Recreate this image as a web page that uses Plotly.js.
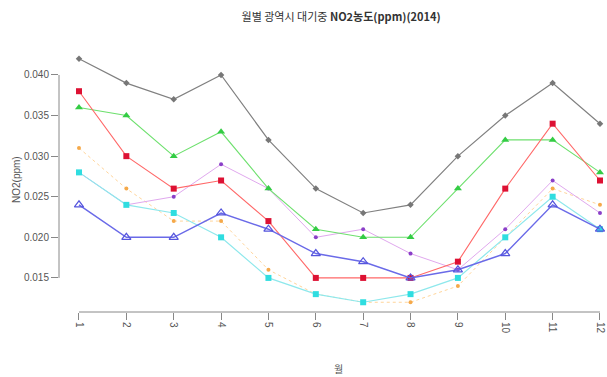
<!DOCTYPE html>
<html>
<head>
<meta charset="utf-8">
<script src="https://cdn.plot.ly/plotly-3.0.1.min.js"></script>
<style>html,body{margin:0;padding:0;background:#fff;}#chart{width:607px;height:377px;}</style>
</head>
<body>
<div id="chart"></div>
<script>
// ---- data ----
const months = [1,2,3,4,5,6,7,8,9,10,11,12];
const xTickLabels = ["1","2","3","4","5","6","7","8","9","10","11","12"];
const yTicks = [0.015,0.020,0.025,0.030,0.035,0.040];
const yTickLabels = ["0.015","0.020","0.025","0.030","0.035","0.040"];

const seriesGray   = [0.042,0.039,0.037,0.040,0.032,0.026,0.023,0.024,0.030,0.035,0.039,0.034];
const seriesRed    = [0.038,0.030,0.026,0.027,0.022,0.015,0.015,0.015,0.017,0.026,0.034,0.027];
const seriesGreen  = [0.036,0.035,0.030,0.033,0.026,0.021,0.020,0.020,0.026,0.032,0.032,0.028];
const seriesOrange = [0.031,0.026,0.022,0.022,0.016,0.013,0.012,0.012,0.014,0.020,0.026,0.024];
const seriesViolet = [0.028,0.024,0.025,0.029,0.026,0.020,0.021,0.018,0.016,0.021,0.027,0.023];
const seriesCyan   = [0.028,0.024,0.023,0.020,0.015,0.013,0.012,0.013,0.015,0.020,0.025,0.021];
const seriesBlue   = [0.024,0.020,0.020,0.023,0.021,0.018,0.017,0.015,0.016,0.018,0.024,0.021];

const titleText = "월별 광역시 대기중 <b>NO2농도(ppm)(2014)</b>";
const xTitle = "월";
const yTitle = "NO2(ppm)";

// ---- styles ----
function tr(y, lineColor, lineWidth, dash, mColor, mSymbol, mSize, mLine) {
  return {
    x: months, y: y, type: 'scatter', mode: 'lines+markers', cliponaxis: false,
    line: {color: lineColor, width: lineWidth, dash: dash},
    marker: {color: mColor, symbol: mSymbol, size: mSize, line: mLine || {width: 0}},
    hoverinfo: 'x+y'
  };
}
const data = [
  tr(seriesOrange, '#ffd59a', 1, 'dot', '#f5a94a', 'circle', 4),
  tr(seriesViolet, '#e0a8ee', 1, 'solid', '#8a3fc8', 'circle', 4),
  tr(seriesCyan, '#8ee8ec', 1.2, 'solid', '#2fdde0', 'square', 6),
  tr(seriesGray, '#808080', 1.2, 'solid', '#777777', 'diamond', 5),
  tr(seriesGreen, '#6ee06e', 1.1, 'solid', '#33cc44', 'triangle-up', 7),
  tr(seriesRed, '#ff6868', 1.1, 'solid', '#dd1133', 'square', 6),
  tr(seriesBlue, '#6a6ae8', 1.5, 'solid', '#5555dd', 'triangle-up-open', 8, {color: '#5555dd', width: 1.2})
];

const axisFont = {family: 'Liberation Sans, Arial, sans-serif', size: 10, color: '#555'};
const layout = {
  width: 607, height: 377,
  margin: {l: 59, r: 0, t: 49, b: 65, pad: 0},
  paper_bgcolor: '#fff', plot_bgcolor: '#fff',
  showlegend: false,
  title: {
    text: titleText, xref: 'container', x: 0.562, xanchor: 'center',
    yref: 'container', y: 0.955, yanchor: 'middle',
    font: {family: 'Noto Sans CJK KR, sans-serif', size: 11, color: '#333'}
  },
  xaxis: {
    range: [0.578, 12.148], tickmode: 'array', tickvals: months, ticktext: xTickLabels,
    tickangle: 90, ticks: 'outside', ticklen: 7, tickcolor: '#888', tickwidth: 1,
    showgrid: false, zeroline: false, showline: false, tickfont: axisFont, automargin: false
  },
  yaxis: {
    range: [0.0108, 0.0432], tickmode: 'array', tickvals: yTicks, ticktext: yTickLabels,
    ticks: 'outside', ticklen: 7, tickcolor: '#888', tickwidth: 1,
    showgrid: false, zeroline: false, showline: false, tickfont: axisFont, automargin: false
  },
  shapes: [
    {type: 'line', xref: 'x', yref: 'paper', x0: months[0], x1: months[months.length-1], y0: 0, y1: 0,
     line: {color: '#888', width: 1}},
    {type: 'line', xref: 'paper', yref: 'y', x0: 0, x1: 0, y0: yTicks[0], y1: yTicks[yTicks.length-1],
     line: {color: '#888', width: 1}}
  ],
  annotations: [
    {text: xTitle, xref: 'paper', yref: 'paper', x: (338-59)/548, y: -(368-312)/263,
     xanchor: 'center', yanchor: 'middle', showarrow: false,
     font: {family: 'Noto Sans CJK KR, sans-serif', size: 10, color: '#555'}},
    {text: yTitle, xref: 'paper', yref: 'paper', x: (16-59)/548, y: (312-180)/263,
     xanchor: 'center', yanchor: 'middle', showarrow: false, textangle: -90,
     font: {family: 'Liberation Sans, Arial, sans-serif', size: 10, color: '#555'}}
  ]
};
Plotly.newPlot('chart', data, layout, {displayModeBar: false, staticPlot: true});
</script>
</body>
</html>
